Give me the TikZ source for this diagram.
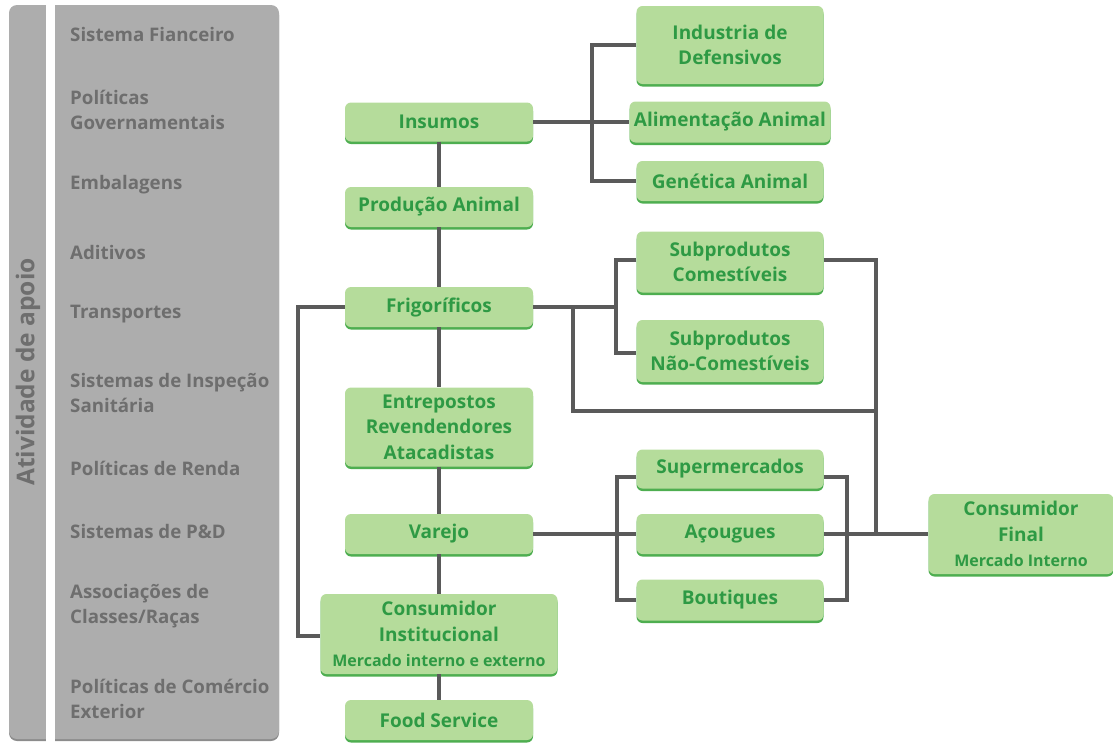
\documentclass[tikz,border=0pt]{standalone}
\usepackage{fontspec}
\setmainfont{Open Sans}
\usetikzlibrary{shadows}
\definecolor{boxfill}{HTML}{B5DC9B}
\definecolor{boxedge}{HTML}{4EAE50}
\definecolor{boxtext}{HTML}{2E9A44}
\definecolor{wire}{HTML}{5A5A5A}
\definecolor{panel}{HTML}{ADADAD}
\definecolor{paneledge}{HTML}{8C8C8C}
\definecolor{paneltext}{HTML}{6E6E6E}
\tikzset{
  chainbox/.style={fill=boxfill, rounded corners=6pt, inner sep=0pt, align=center,
    text=boxtext, font=\bfseries\fontsize{19}{25.5}\selectfont,
    drop shadow={shadow xshift=0pt, shadow yshift=-2.5pt, fill=boxedge, opacity=1}},
  link/.style={draw=wire, line width=4pt, line join=miter},
  sidetext/.style={anchor=west, align=left, text=paneltext, inner sep=0pt,
    font=\bfseries\fontsize{18.7}{25.5}\selectfont},
}
\newcommand{\subline}[1]{{\fontsize{16}{18}\selectfont #1}}
\begin{document}
\begin{tikzpicture}[x=1pt,y=-1pt]
\useasboundingbox (0,0) rectangle (1113,742);

% support activities panel
\fill[panel, rounded corners=8pt,
  drop shadow={shadow xshift=0pt, shadow yshift=-2pt, fill=paneledge, opacity=1}]
  (9,5) rectangle (279,739);
\fill[white] (46,0) rectangle (55,742);
\node[rotate=90, text=paneltext, font=\bfseries\fontsize{24.5}{26}\selectfont, inner sep=0pt]
  (apoio) at (28,372) {Atividade de apoio};
\node[sidetext] (s1) at (70,34) {Sistema Fianceiro};
\node[sidetext] (s2) at (70,110) {Políticas\\Governamentais};
\node[sidetext] (s3) at (70,185) {Embalagens};
\node[sidetext] (s4) at (70,252) {Aditivos};
\node[sidetext] (s5) at (70,314) {Transportes};
\node[sidetext] (s6) at (70,393) {Sistemas de Inspeção\\Sanitária};
\node[sidetext] (s7) at (70,468) {Políticas de Renda};
\node[sidetext] (s8) at (70,531) {Sistemas de P\&D};
\node[sidetext] (s9) at (70,606) {Associações de\\Classes/Raças};
\node[sidetext] (s10) at (70,699) {Políticas de Comércio\\Exterior};

% junction points of the connectors
\coordinate (busIn) at (592,122);
\coordinate (jFrig) at (573,307);
\coordinate (busSub) at (616,307);
\coordinate (jLow) at (876,411);
\coordinate (jFin) at (876,534);
\coordinate (busVarL) at (617,534);
\coordinate (busVarR) at (847,534);
\coordinate (jLeft) at (298,470);

% main chain
\node[chainbox, minimum width=188pt, minimum height=39pt] (ins) at (439,122) {Insumos};
\node[chainbox, minimum width=188pt, minimum height=40pt] (prod) at (439,207) {Produção Animal};
\node[chainbox, minimum width=188pt, minimum height=40pt] (frig) at (439,307) {Frigoríficos};
\node[chainbox, minimum width=188pt, minimum height=79pt] (entre) at (439,427) {Entrepostos\\Revendendores\\Atacadistas};
\node[chainbox, minimum width=188pt, minimum height=40pt] (var) at (439,534) {Varejo};
\node[chainbox, minimum width=237pt, minimum height=80pt] (cinst) at (439,634) {Consumidor\\Institucional\\\subline{Mercado interno e externo}};
\node[chainbox, minimum width=188pt, minimum height=40pt] (food) at (439,720) {Food Service};

% suppliers
\node[chainbox, minimum width=187pt, minimum height=78pt] (ind) at (730,45) {Industria de\\Defensivos};
\node[chainbox, minimum width=201pt, minimum height=41pt] (alim) at (730,122) {Alimentação Animal};
\node[chainbox, minimum width=187pt, minimum height=40pt] (gen) at (730,181) {Genética Animal};

% by-products
\node[chainbox, minimum width=187pt, minimum height=61pt] (subc) at (730,262) {Subprodutos\\Comestíveis};
\node[chainbox, minimum width=187pt, minimum height=62pt] (subn) at (730,351) {Subprodutos\\Não-Comestíveis};

% retail outlets
\node[chainbox, minimum width=187pt, minimum height=39pt] (sup) at (730,469) {Supermercados};
\node[chainbox, minimum width=187pt, minimum height=40pt] (acou) at (730,534) {Açougues};
\node[chainbox, minimum width=187pt, minimum height=41pt] (bout) at (730,600) {Boutiques};

% final consumer
\node[chainbox, minimum width=185pt, minimum height=80pt] (fin) at (1021,534) {Consumidor\\Final\\\subline{Mercado Interno}};

% connectors
\draw[link] (ins.south) -- (prod.north);
\draw[link] (prod.south) -- (frig.north);
\draw[link] (frig.south) -- (entre.north);
\draw[link] (entre.south) -- (var.north);
\draw[link] (var.south) -- (cinst.north);
\draw[link] (cinst.south) -- (food.north);

\draw[link] (ins.east) -- (alim.west);
\draw[link] (ind.west) -| (busIn) |- (gen.west);

\draw[link] (frig.east) -- (busSub);
\draw[link] ([yshift=2pt]subc.west) -| (busSub) |- ([yshift=-2pt]subn.west);
\draw[link] (jFrig) |- (jLow);
\draw[link] ([yshift=2pt]subc.east) -| (jFin);

\draw[link] (var.east) -- (acou.west);
\draw[link] ([yshift=-8pt]sup.west) -| (busVarL) |- (bout.west);
\draw[link] ([yshift=-8pt]sup.east) -| (busVarR) |- (bout.east);
\draw[link] (acou.east) -- (fin.west);

\draw[link] (frig.west) -| (jLeft) |- ([yshift=-2pt]cinst.west);
\end{tikzpicture}
\end{document}
